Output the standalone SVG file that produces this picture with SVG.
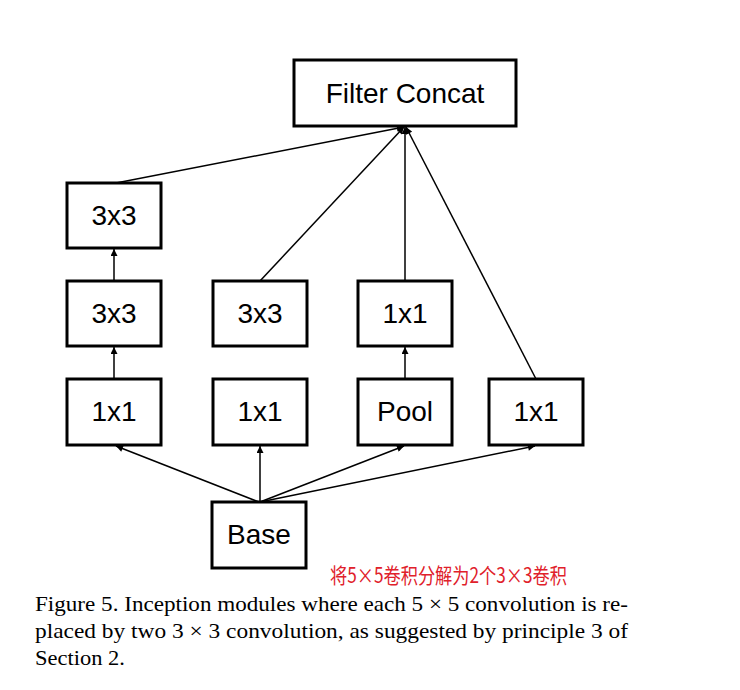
<svg xmlns="http://www.w3.org/2000/svg" width="740" height="690" viewBox="0 0 740 690">
<defs>
<marker id="ah" viewBox="0 0 10 10" refX="10" refY="5" markerWidth="8" markerHeight="7" markerUnits="userSpaceOnUse" orient="auto">
<path d="M0,0 L10,5 L0,10 z" fill="#000"/>
</marker>
</defs>
<style>
.box{fill:#fff;stroke:#000;stroke-width:3}
.lbl{font-family:"Liberation Sans",Arial,sans-serif;font-size:28px;fill:#000;text-anchor:middle}
.edge{stroke:#000;stroke-width:1.5;fill:none;marker-end:url(#ah)}
.cap{font-family:"Liberation Serif","Times New Roman",serif;font-size:22px;fill:#000}
.note{font-family:"Noto Sans CJK SC",sans-serif;font-size:21px;fill:#e0202a}
</style>
<rect width="740" height="690" fill="#fff"/>
<g id="connectors">
<line class="edge" x1="259" y1="502" x2="116" y2="446"/>
<line class="edge" x1="260" y1="502" x2="260" y2="446"/>
<line class="edge" x1="260" y1="502" x2="404" y2="446"/>
<line class="edge" x1="260" y1="502" x2="535" y2="446"/>
<line class="edge" x1="114" y1="379" x2="114" y2="347"/>
<line class="edge" x1="114" y1="281" x2="114" y2="249"/>
<line class="edge" x1="405" y1="379" x2="405" y2="347"/>
<line class="edge" x1="116" y1="183" x2="404" y2="127"/>
<line class="edge" x1="260" y1="281" x2="404" y2="127"/>
<line class="edge" x1="405" y1="281" x2="405" y2="127"/>
<line class="edge" x1="536" y1="379" x2="406" y2="127"/>
</g>
<g id="filter-concat"><rect class="box" x="294" y="60" width="222" height="66"/><text class="lbl" x="405" y="103" font-size="30">Filter Concat</text></g>
<g id="c1-3x3-top"><rect class="box" x="67" y="183" width="94" height="65"/><text class="lbl" x="114" y="225">3x3</text></g>
<g id="c1-3x3"><rect class="box" x="67" y="281" width="94" height="65"/><text class="lbl" x="114" y="323">3x3</text></g>
<g id="c1-1x1"><rect class="box" x="67" y="379" width="94" height="66"/><text class="lbl" x="114" y="421">1x1</text></g>
<g id="c2-3x3"><rect class="box" x="213" y="281" width="94" height="65"/><text class="lbl" x="260" y="323">3x3</text></g>
<g id="c2-1x1"><rect class="box" x="213" y="379" width="94" height="66"/><text class="lbl" x="260" y="421">1x1</text></g>
<g id="c3-1x1"><rect class="box" x="358" y="281" width="94" height="65"/><text class="lbl" x="405" y="323">1x1</text></g>
<g id="c3-pool"><rect class="box" x="358" y="379" width="94" height="66"/><text class="lbl" x="405" y="421">Pool</text></g>
<g id="c4-1x1"><rect class="box" x="489" y="379" width="94" height="66"/><text class="lbl" x="536" y="421">1x1</text></g>
<g id="base"><rect class="box" x="212" y="502" width="94" height="66"/><text class="lbl" x="259" y="544">Base</text></g>
<text class="note" x="330" y="583" textLength="237" lengthAdjust="spacingAndGlyphs">将5×5卷积分解为2个3×3卷积</text>
<text class="cap" x="35" y="611" textLength="593" lengthAdjust="spacingAndGlyphs">Figure 5. Inception modules where each 5 × 5 convolution is re-</text>
<text class="cap" x="35" y="638" textLength="593" lengthAdjust="spacingAndGlyphs">placed by two 3 × 3 convolution, as suggested by principle 3 of</text>
<text class="cap" x="35" y="665" textLength="90" lengthAdjust="spacingAndGlyphs">Section 2.</text>
</svg>
